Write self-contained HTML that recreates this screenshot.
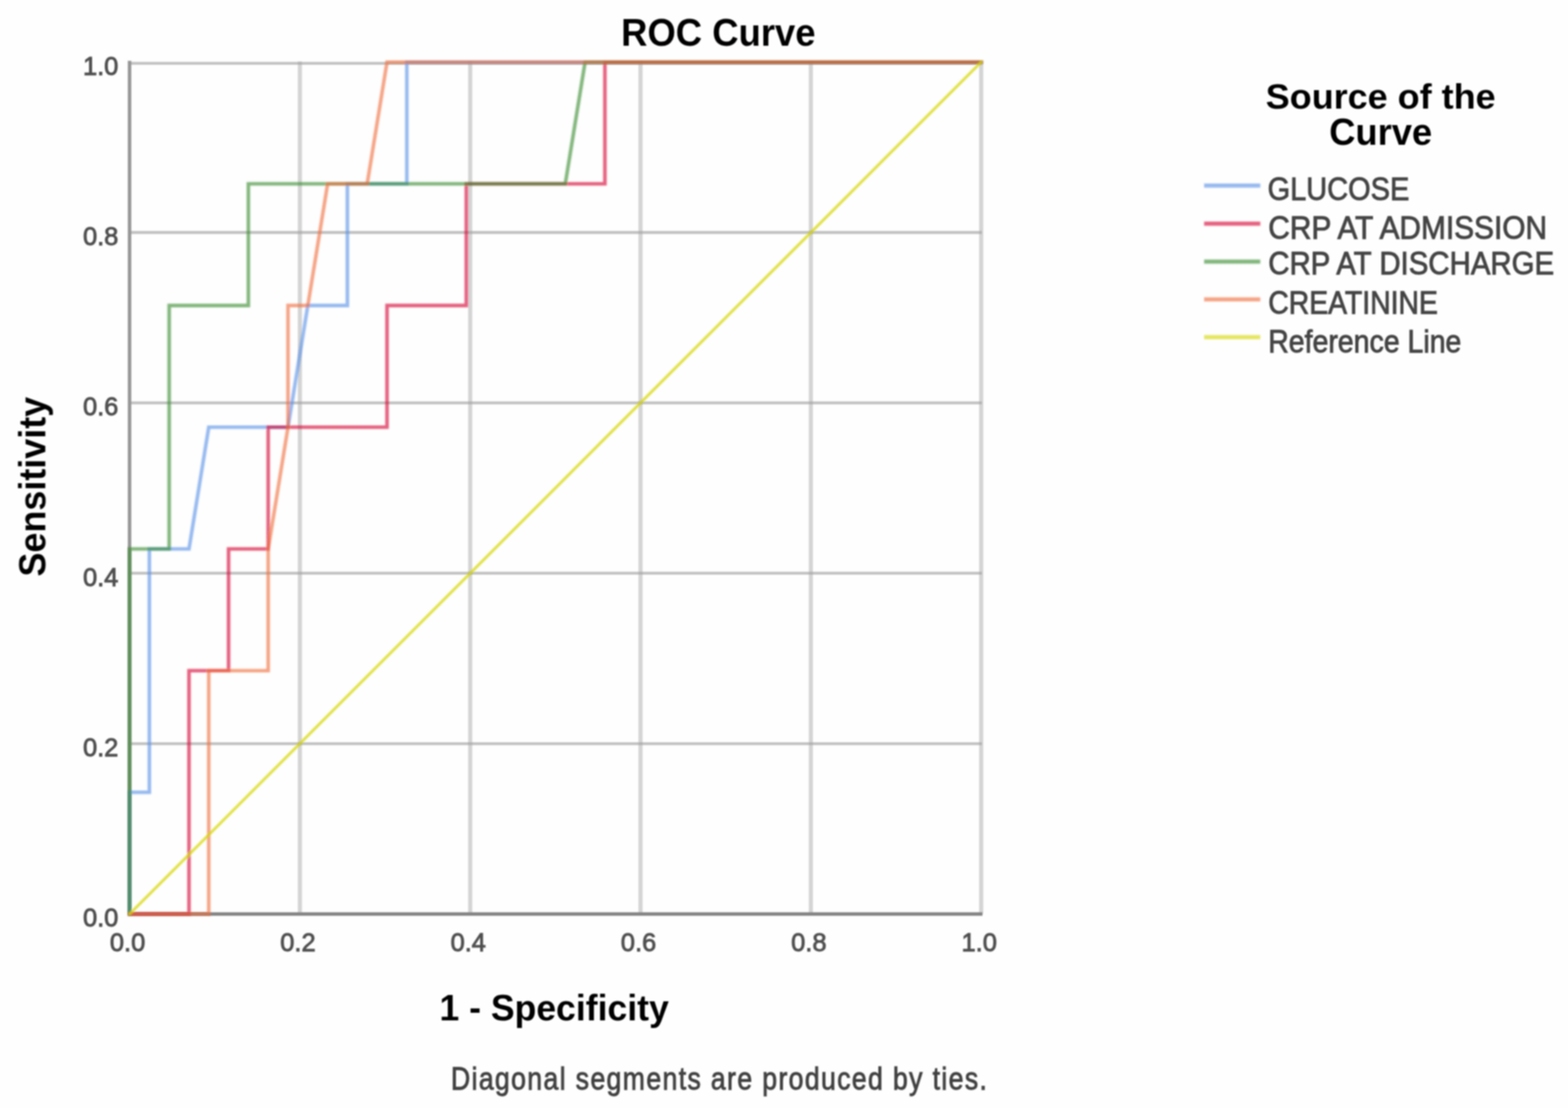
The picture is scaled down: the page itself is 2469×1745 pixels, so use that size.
<!DOCTYPE html>
<html><head><meta charset="utf-8"><title>ROC Curve</title>
<style>
html,body{margin:0;padding:0;background:#fff;}
body{width:2469px;height:1745px;overflow:hidden;}
svg{display:block;}
text{font-family:"Liberation Sans",Arial,sans-serif;font-variant-ligatures:none;font-kerning:normal;}
</style></head><body>
<svg width="2469" height="1745" viewBox="0 0 2469 1745">
<defs><filter id="soft" filterUnits="userSpaceOnUse" x="0" y="0" width="2469" height="1745"><feGaussianBlur stdDeviation="1.3"/></filter>
<filter id="softc" filterUnits="userSpaceOnUse" x="0" y="0" width="2469" height="1745"><feGaussianBlur stdDeviation="1.4"/></filter>
<filter id="softt" filterUnits="userSpaceOnUse" x="0" y="0" width="2469" height="1745"><feGaussianBlur stdDeviation="0.9"/></filter></defs>
<rect width="2469" height="1745" fill="#fefefe"/>
<g filter="url(#soft)">
<g stroke="#a0a0a0" stroke-width="6.5" stroke-opacity="0.44" fill="none">
<line x1="472.2" y1="96.8" x2="472.2" y2="1439.5"/>
<line x1="740.4" y1="96.8" x2="740.4" y2="1439.5"/>
<line x1="1008.6" y1="96.8" x2="1008.6" y2="1439.5"/>
<line x1="1276.8" y1="96.8" x2="1276.8" y2="1439.5"/>
<line x1="1545.0" y1="96.8" x2="1545.0" y2="1439.5"/>
</g>
<g stroke="#a0a0a0" stroke-width="4.6" stroke-opacity="0.64" fill="none">
<line x1="204.0" y1="1171.2" x2="1546.0" y2="1171.2"/>
<line x1="204.0" y1="902.8" x2="1546.0" y2="902.8"/>
<line x1="204.0" y1="634.5" x2="1546.0" y2="634.5"/>
<line x1="204.0" y1="366.1" x2="1546.0" y2="366.1"/>
<line x1="204.0" y1="99.8" x2="1546.0" y2="99.8"/>
</g>
<line x1="204.0" y1="95.8" x2="204.0" y2="1441.5" stroke="#969696" stroke-width="5.5"/>
<line x1="202.0" y1="1439.5" x2="1547.0" y2="1439.5" stroke="#848484" stroke-width="5.5"/>
</g><g filter="url(#softc)"><g fill="none" stroke-width="5.6" stroke-linejoin="miter" stroke-linecap="square" stroke-opacity="0.62">
<polyline stroke="#5590e6" points="204.0,1439.5 204.0,1247.8 235.2,1247.8 235.2,864.5 297.6,864.5 328.7,672.8 453.5,672.8 484.7,481.1 547.0,481.1 547.0,289.5 640.6,289.5 640.6,97.8 1545.0,97.8"/>
<polyline stroke="#d60031" points="204.0,1439.5 297.6,1439.5 297.6,1056.2 359.9,1056.2 359.9,864.5 422.3,864.5 422.3,672.8 609.4,672.8 609.4,481.1 734.2,481.1 734.2,289.5 952.5,289.5 952.5,97.8 1545.0,97.8"/>
<polyline stroke="#358a2e" points="204.0,1439.5 204.0,864.5 266.4,864.5 266.4,481.1 391.1,481.1 391.1,289.5 890.1,289.5 921.3,97.8 1545.0,97.8"/>
<polyline stroke="#f06c3b" points="204.0,1439.5 328.7,1439.5 328.7,1056.2 422.3,1056.2 422.3,864.5 453.5,672.8 453.5,481.1 484.7,481.1 515.9,289.5 578.2,289.5 609.4,97.8 1545.0,97.8"/>
<line x1="204.0" y1="1439.5" x2="1545.0" y2="97.8" stroke="#d6d600" stroke-width="4.2" stroke-opacity="0.76"/>
</g>
<g stroke-width="6.5" stroke-opacity="0.62">
<line x1="1896" y1="292.2" x2="1984.5" y2="292.2" stroke="#5590e6"/>
<line x1="1896" y1="352.3" x2="1984.5" y2="352.3" stroke="#d60031"/>
<line x1="1896" y1="412.0" x2="1984.5" y2="412.0" stroke="#358a2e"/>
<line x1="1896" y1="471.5" x2="1984.5" y2="471.5" stroke="#f06c3b"/>
<line x1="1896" y1="531.0" x2="1984.5" y2="531.0" stroke="#d6d600"/>
</g>
</g>
<g filter="url(#softt)">
<g font-size="40.18" fill="#505050" stroke="#505050" stroke-width="1.3" text-anchor="end">
<text x="186.40" y="1459.30" textLength="55.76" lengthAdjust="spacingAndGlyphs">0.0</text>
<text x="186.40" y="1190.96" textLength="55.76" lengthAdjust="spacingAndGlyphs">0.2</text>
<text x="186.40" y="922.62" textLength="55.76" lengthAdjust="spacingAndGlyphs">0.4</text>
<text x="186.40" y="654.28" textLength="55.76" lengthAdjust="spacingAndGlyphs">0.6</text>
<text x="186.40" y="385.94" textLength="55.76" lengthAdjust="spacingAndGlyphs">0.8</text>
<text x="186.40" y="117.60" textLength="55.76" lengthAdjust="spacingAndGlyphs">1.0</text>
</g>
<g font-size="40.18" fill="#505050" stroke="#505050" stroke-width="1.3" text-anchor="middle">
<text x="200.90" y="1497.70" textLength="55.76" lengthAdjust="spacingAndGlyphs">0.0</text>
<text x="469.10" y="1497.70" textLength="55.76" lengthAdjust="spacingAndGlyphs">0.2</text>
<text x="737.30" y="1497.70" textLength="55.76" lengthAdjust="spacingAndGlyphs">0.4</text>
<text x="1005.50" y="1497.70" textLength="55.76" lengthAdjust="spacingAndGlyphs">0.6</text>
<text x="1273.70" y="1497.70" textLength="55.76" lengthAdjust="spacingAndGlyphs">0.8</text>
<text x="1541.90" y="1497.70" textLength="55.76" lengthAdjust="spacingAndGlyphs">1.0</text>
</g>
<text x="978.00" y="71.60" font-size="60.27" font-weight="bold" fill="#050505" textLength="306.13" lengthAdjust="spacingAndGlyphs">ROC Curve</text>
<text x="692.00" y="1606.80" font-size="57.67" font-weight="bold" fill="#050505" textLength="361.04" lengthAdjust="spacingAndGlyphs">1 - Specificity</text>
<text transform="translate(71.30,908.00) rotate(-90)" font-size="59.97" font-weight="bold" fill="#050505" textLength="283.01" lengthAdjust="spacingAndGlyphs">Sensitivity</text>
<text x="710.00" y="1715.70" font-size="49.19" stroke="#424242" stroke-width="1.3" fill="#424242" textLength="846.09" lengthAdjust="spacingAndGlyphs" letter-spacing="2.5">Diagonal segments are produced by ties.</text>
<text x="1993.00" y="170.90" font-size="55.87" font-weight="bold" fill="#050505" textLength="362.06" lengthAdjust="spacingAndGlyphs">Source of the</text>
<text x="2093.00" y="227.60" font-size="58.44" font-weight="bold" fill="#050505" textLength="162.18" lengthAdjust="spacingAndGlyphs">Curve</text>
<text x="1996.00" y="315.20" font-size="50.60" stroke="#444444" stroke-width="1.3" fill="#444444" textLength="223.07" lengthAdjust="spacingAndGlyphs">GLUCOSE</text>
<text x="1997.00" y="375.80" font-size="50.60" stroke="#444444" stroke-width="1.3" fill="#444444" textLength="439.06" lengthAdjust="spacingAndGlyphs">CRP AT ADMISSION</text>
<text x="1997.00" y="432.20" font-size="50.60" stroke="#444444" stroke-width="1.3" fill="#444444" textLength="450.04" lengthAdjust="spacingAndGlyphs">CRP AT DISCHARGE</text>
<text x="1997.00" y="493.50" font-size="50.60" stroke="#444444" stroke-width="1.3" fill="#444444" textLength="267.05" lengthAdjust="spacingAndGlyphs">CREATININE</text>
<text x="1997.00" y="554.50" font-size="50.60" stroke="#444444" stroke-width="1.3" fill="#444444" textLength="304.05" lengthAdjust="spacingAndGlyphs">Reference Line</text>
</g>
</svg>
</body></html>
